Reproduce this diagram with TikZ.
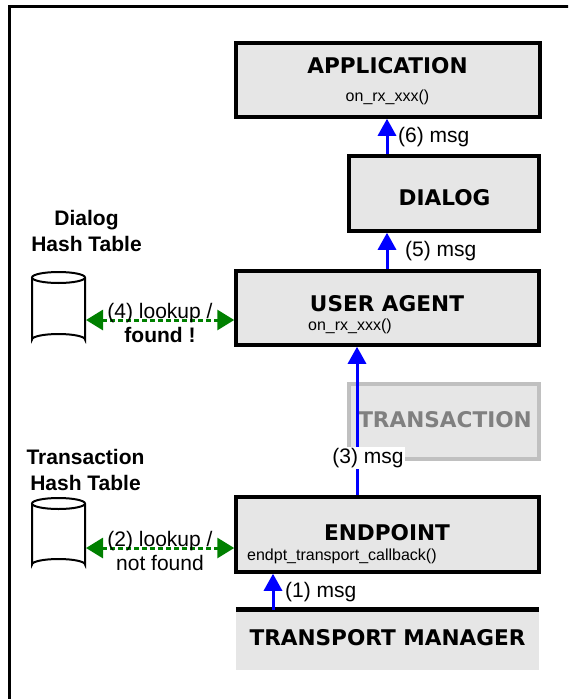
\documentclass[tikz,border=0pt]{standalone}
\usepackage{fontspec}
\setmainfont{Liberation Sans}
\newfontfamily\vfont{DejaVu Sans}
\usetikzlibrary{arrows.meta}
\definecolor{boxgray}{RGB}{230,230,230}
\definecolor{lgreen}{RGB}{0,128,0}
\definecolor{tgray}{RGB}{128,128,128}
\definecolor{tborder}{RGB}{192,192,192}
\tikzset{
  layerbox/.style={draw=black, line width=3.5pt, fill=boxgray, inner sep=0pt},
  ghostbox/.style={draw=tborder, line width=3.5pt, fill=boxgray, inner sep=0pt},
  title/.style={inner sep=0pt, font=\vfont\bfseries\fontsize{21.6}{25}\selectfont},
  code/.style={inner sep=0pt, font=\fontsize{16}{19}\selectfont},
  lbl/.style={inner sep=0pt, font=\fontsize{21}{24}\selectfont},
  msgarrow/.style={draw=blue, line width=3pt, -{Triangle[width=18pt,length=17pt]}},
  lookup/.style={draw=lgreen, line width=3pt, dash pattern=on 5pt off 3pt,
    {Triangle[width=20pt,length=17pt]}-{Triangle[width=20pt,length=17pt]}},
  cyl/.style={draw=black, line width=2pt, fill=white},
}
\begin{document}
\begin{tikzpicture}[x=1pt,y=-1pt]
\useasboundingbox (0,0) rectangle (568,699);
\clip (0,0) rectangle (568,699);
% outer frame
\draw[line width=3.5pt] (9.5,720) -- (9.5,6.5) -- (590,6.5);

% boxes
\node[layerbox, minimum width=304pt, minimum height=74pt] (app) at (388,80) {};
\node[title] (appt) at (387.5,66) {APPLICATION};
\node[code] (appc) at (387.5,97) {on\_rx\_xxx()};

\node[layerbox, minimum width=190pt, minimum height=75pt] (dlg) at (444,193.5) {};
\node[title] (dlgt) at (444.5,198) {DIALOG};

\node[layerbox, minimum width=303pt, minimum height=74pt] (ua) at (387.5,308) {};
\node[title] (uat) at (387,303.5) {USER AGENT};
\node[code, anchor=west] (uac) at (308,326) {on\_rx\_xxx()};

\node[ghostbox, minimum width=190pt, minimum height=75pt] (trn) at (444,421.5) {};
\node[title, text=tgray] (trnt) at (445,420) {TRANSACTION};

\node[layerbox, minimum width=303pt, minimum height=75pt] (ep) at (387.5,534.5) {};
\node[title] (ept) at (387,533) {ENDPOINT};
\node[code, anchor=west] (epc) at (247,556) {endpt\_transport\_callback()};

% transport manager
\node[fill=boxgray, minimum width=303pt, minimum height=60pt, inner sep=0pt] (tm) at (387.5,640) {};
\draw[line width=5pt] (tm.north west) -- (tm.north east);
\node[title] (tmt) at (387.5,638) {TRANSPORT MANAGER};

% message arrows
\coordinate (x6) at (387,0);
\coordinate (x3) at (357,0);
\coordinate (x1) at (273,0);
\draw[msgarrow] (x6 |- dlg.north) -- (x6 |- app.south);
\draw[msgarrow] (x6 |- ua.north) -- (x6 |- dlg.south);
\draw[msgarrow] (x3 |- ep.north) -- (x3 |- ua.south);
\draw[msgarrow] (x1 |- tm.north) -- (x1 |- ep.south);
\node[lbl, anchor=west] (l6) at (398,137) {(6) msg};
\node[lbl, anchor=west] (l5) at (405,251) {(5) msg};
\node[lbl, fill=white, inner sep=1.5pt] (l3) at (368,458) {(3) msg};
\node[lbl, anchor=west] (l1) at (285,592) {(1) msg};

% cylinders
\draw[cyl] (32,277.5) -- (32,339.5) arc[start angle=180, end angle=360, x radius=26.5, y radius=5.5]
  -- (85,277.5);
\draw[cyl] (58.5,277.5) ellipse[x radius=26.5, y radius=5.5];
\draw[cyl] (32,503.5) -- (32,564.5) arc[start angle=180, end angle=360, x radius=26.5, y radius=5.5]
  -- (85,503.5);
\draw[cyl] (58.5,503.5) ellipse[x radius=26.5, y radius=5.5];
\coordinate (dcyl) at (86,320);
\coordinate (tcyl) at (86,548);

\node[lbl, font=\bfseries\fontsize{21}{26}\selectfont, align=center] (dhl) at (86.5,231) {Dialog\\Hash Table};
\node[lbl, font=\bfseries\fontsize{21}{26}\selectfont, align=center] (thl) at (85.5,470) {Transaction\\Hash Table};

% lookups
\draw[lookup] (dcyl) -- (dcyl -| ua.west);
\draw[lookup] (tcyl) -- (tcyl -| ep.west);
\node[lbl, align=center] (l4) at (160,323) {(4) lookup /\\\textbf{found !}};
\node[lbl, align=center] (l2) at (160,551) {(2) lookup /\\not found};
\end{tikzpicture}
\end{document}
